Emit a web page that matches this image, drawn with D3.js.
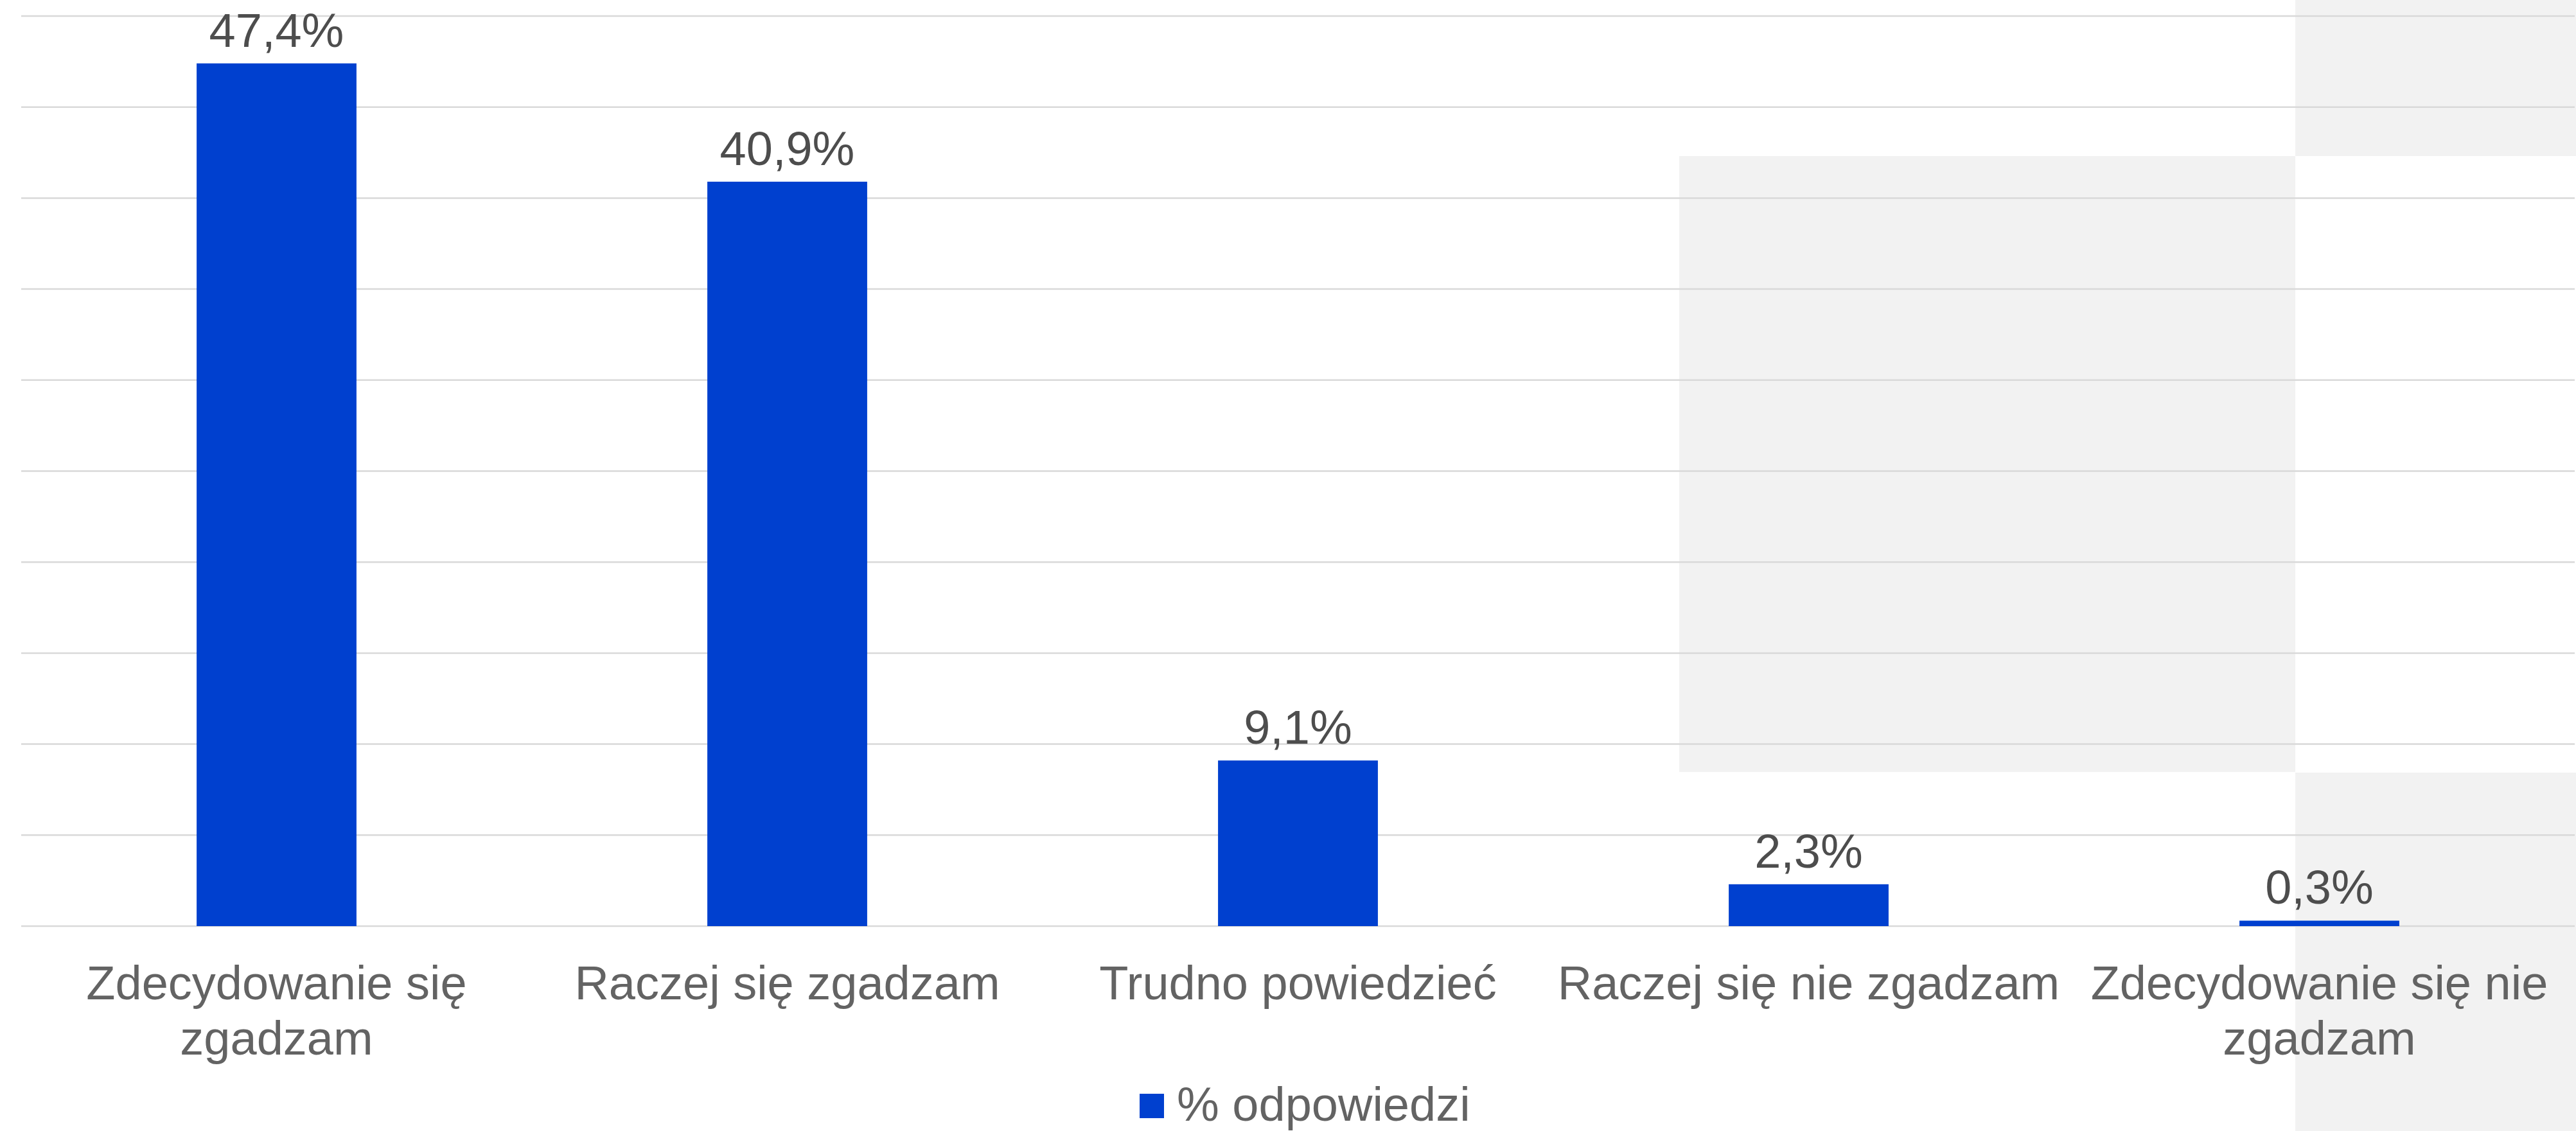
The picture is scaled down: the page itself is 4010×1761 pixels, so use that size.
<!DOCTYPE html>
<html>
<head>
<meta charset="utf-8">
<script src="https://cdn.jsdelivr.net/npm/d3@7"></script>
<style>
  html, body { margin: 0; padding: 0; background: #ffffff; }
  svg { display: block; }
  text { font-family: "Liberation Sans", Arial, sans-serif; }
</style>
</head>
<body>
<svg id="chart" width="4010" height="1761"></svg>
<script>
const categories = ["Zdecydowanie się zgadzam", "Raczej się zgadzam", "Trudno powiedzieć", "Raczej się nie zgadzam", "Zdecydowanie się nie zgadzam"];
const values = [47.4, 40.9, 9.1, 2.3, 0.3];
const valueLabels = ["47,4%", "40,9%", "9,1%", "2,3%", "0,3%"];
const seriesName = "% odpowiedzi";
const yDomain = [0, 50];

const W = 4010, H = 1761;
const margin = { left: 33, right: 2, top: 25, bottom: 319 };
const svg = d3.select("#chart");

// background artefact squares (light grey)
const bg = svg.append("g");
[[2614, 243, 959, 959], [3573, 0, 437, 243], [3573, 1203, 437, 558]].forEach(r => {
  bg.append("rect").attr("x", r[0]).attr("y", r[1]).attr("width", r[2]).attr("height", r[3]).attr("fill", "#f2f2f2");
});

const x = d3.scaleBand().domain(categories)
  .range([margin.left, W - margin.right])
  .paddingInner(0.687).paddingOuter(0.3435);
const y = d3.scaleLinear().domain(yDomain).range([H - margin.bottom, margin.top]);

// gridlines
const grid = svg.append("g");
grid.selectAll("line").data(y.ticks(10)).join("line")
  .attr("x1", margin.left).attr("x2", W - margin.right)
  .attr("y1", d => y(d)).attr("y2", d => y(d))
  .attr("stroke", "#d9d9d9").attr("stroke-width", 2.5);

// bars
svg.append("g").selectAll("rect").data(values).join("rect")
  .attr("x", (d, i) => x(categories[i]))
  .attr("y", d => y(d))
  .attr("width", x.bandwidth())
  .attr("height", d => y(0) - y(d))
  .attr("fill", "#0040cf");

// value labels
svg.append("g").selectAll("text").data(values).join("text")
  .attr("x", (d, i) => x(categories[i]) + x.bandwidth() / 2)
  .attr("y", d => y(d) - 26)
  .attr("text-anchor", "middle")
  .attr("font-size", 74)
  .attr("fill", "#4d4d4d")
  .text((d, i) => valueLabels[i]);

// category axis labels with wrapping
const step = x.step();
const axisG = svg.append("g");
categories.forEach((c, i) => {
  const cx = x(c) + x.bandwidth() / 2;
  const t = axisG.append("text")
    .attr("x", cx).attr("y", 1556)
    .attr("text-anchor", "middle")
    .attr("font-size", 74)
    .attr("fill", "#636363");
  const words = c.split(" ");
  let line = [];
  let tspan = t.append("tspan").attr("x", cx).attr("dy", 0);
  words.forEach(w => {
    line.push(w);
    tspan.text(line.join(" "));
    if (tspan.node().getComputedTextLength() > step && line.length > 1) {
      line.pop();
      tspan.text(line.join(" "));
      line = [w];
      tspan = t.append("tspan").attr("x", cx).attr("dy", 86).text(w);
    }
  });
});

// legend
const lg = svg.append("g");
lg.append("text")
  .attr("x", 1832).attr("y", 1745)
  .attr("font-size", 74).attr("fill", "#636363")
  .text(seriesName);
lg.append("rect").attr("x", 1774).attr("y", 1703).attr("width", 38).attr("height", 38).attr("fill", "#0040cf");
</script>
</body>
</html>
